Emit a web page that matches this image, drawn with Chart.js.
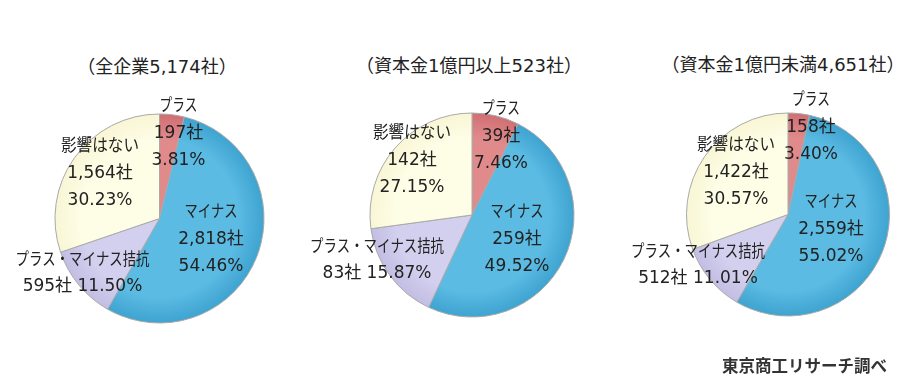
<!DOCTYPE html>
<html lang="ja">
<head>
<meta charset="utf-8">
<script src="https://cdn.jsdelivr.net/npm/chart.js@4.4.0/dist/chart.umd.min.js"></script>
<style>
  body { margin: 0; width: 913px; height: 392px; background: #fff; position: relative; overflow: hidden;
         font-family: "DejaVu Sans", "Noto Sans CJK JP", sans-serif; color: #222; }
  .box { position: absolute; top: 0; height: 392px; }
  .title { position: absolute; font-size: 18px; line-height: 24px; transform: translateX(-50%); white-space: nowrap; }
  .credit { position: absolute; left: 722px; top: 353px; font-size: 16.5px; line-height: 24px; font-weight: bold;
            font-family: "Noto Sans CJK JP", sans-serif; color: #333; }
</style>
</head>
<body>
<div class="title" style="left:157px; top:55px" id="t0"></div>
<div class="title" style="left:469px; top:54px" id="t1"></div>
<div class="title" style="left:783px; top:53px" id="t2"></div>
<div class="box" style="left:0; width:320px"><canvas id="pie0"></canvas></div>
<div class="box" style="left:300px; width:320px"><canvas id="pie1"></canvas></div>
<div class="box" style="left:610px; width:303px"><canvas id="pie2"></canvas></div>
<div class="credit">東京商工リサーチ調べ</div>

<script>
// データ
const categories = ['プラス', 'マイナス', 'プラス・マイナス拮抗', '影響はない'];
const groupTitles = ['（全企業5,174社）', '（資本金1億円以上523社）', '（資本金1億円未満4,651社）'];

const allCounts = [197, 2818, 595, 1564];
const largeCounts = [39, 259, 83, 142];
const smallCounts = [158, 2559, 512, 1422];

const allShares = [3.81, 54.46, 11.50, 30.23];
const largeShares = [7.46, 49.52, 15.87, 27.15];
const smallShares = [3.40, 55.02, 11.01, 30.57];

// 色 (内側 / 外側)
const innerColors = ['#e08a8c', '#5bbbe3', '#d3cfee', '#fefde6'];
const outerColors = ['#d06e72', '#3ea3d0', '#c2bde3', '#f8f6d4'];

// 円の位置・ラベル位置 (中心からのずれ)
const layouts = [
    { w: 320, cx: 159.5, cy: 218.5, r: 104.5,
      offsets: [[19, -84.5], [51.5, 21.5], [-77, 55], [-59.5, -44.5]] },
    { w: 320, cx: 172, cy: 215, r: 102,
      offsets: [[29, -78], [45, 25], [-95, 45.5], [-60, -54]] },
    { w: 303, cx: 178, cy: 214.5, r: 101.5,
      offsets: [[23, -86.5], [43, 15.5], [-90, 51], [-52, -41.5]] }
];
const nameWidths = [38, 53, 134, 78];

const fmt = n => n.toLocaleString('en-US');

function labelLines(counts, shares) {
    return categories.map((name, i) => {
        const c = fmt(counts[i]) + '社';
        const p = shares[i].toFixed(2) + '%';
        if (i === 2) return [name, c + ' ' + p];
        return [name, c, p];
    });
}

const sliceLabels = {
    id: 'sliceLabels',
    afterDatasetsDraw(chart, args, opts) {
        const ctx = chart.ctx;
        const arc = chart.getDatasetMeta(0).data[0];
        ctx.save();
        ctx.font = '17px "DejaVu Sans", "Noto Sans CJK JP", sans-serif';
        ctx.fillStyle = '#222';
        ctx.textAlign = 'center';
        ctx.textBaseline = 'middle';
        opts.lines.forEach((lines, i) => {
            const [dx, dy] = opts.offsets[i];
            const lh = lines.length === 2 ? 26 : 27;
            const top = arc.y + dy - (lines.length - 1) * lh / 2;
            lines.forEach((t, j) => {
                if (j === 0) ctx.fillText(t, arc.x + dx, top, nameWidths[i]);
                else ctx.fillText(t, arc.x + dx, top + j * lh);
            });
        });
        ctx.restore();
    }
};

function shade(ctx, i) {
    const arc = ctx.element;
    const chart = ctx.chart;
    if (!arc || !chart.chartArea) return innerColors[i];
    const a = chart.chartArea;
    const x = (a.left + a.right) / 2, y = (a.top + a.bottom) / 2;
    const r = Math.min(a.width, a.height) / 2;
    const g = chart.ctx.createRadialGradient(x, y, 0, x, y, r);
    g.addColorStop(0, innerColors[i]);
    g.addColorStop(0.75, innerColors[i]);
    g.addColorStop(1, outerColors[i]);
    return g;
}

function makePie(id, idx, counts, shares) {
    const L = layouts[idx];
    const H = 392;
    const size = 2 * L.r + 1;
    const canvas = document.getElementById(id);
    canvas.parentNode.style.width = L.w + 'px';
    document.getElementById('t' + idx).textContent = groupTitles[idx];
    new Chart(canvas, {
        type: 'pie',
        data: {
            labels: categories,
            datasets: [{
                data: counts,
                backgroundColor: c => shade(c, c.dataIndex),
                borderColor: '#a9a9a9',
                borderWidth: 1
            }]
        },
        options: {
            responsive: true,
            maintainAspectRatio: false,
            animation: false,
            layout: {
                padding: {
                    left: L.cx - size / 2,
                    top: L.cy - size / 2,
                    right: L.w - (L.cx + size / 2),
                    bottom: H - (L.cy + size / 2)
                }
            },
            plugins: {
                legend: { display: false },
                tooltip: { enabled: false },
                sliceLabels: { lines: labelLines(counts, shares), offsets: L.offsets }
            }
        },
        plugins: [sliceLabels]
    });
}

makePie('pie0', 0, allCounts, allShares);
makePie('pie1', 1, largeCounts, largeShares);
makePie('pie2', 2, smallCounts, smallShares);
</script>
</body>
</html>
